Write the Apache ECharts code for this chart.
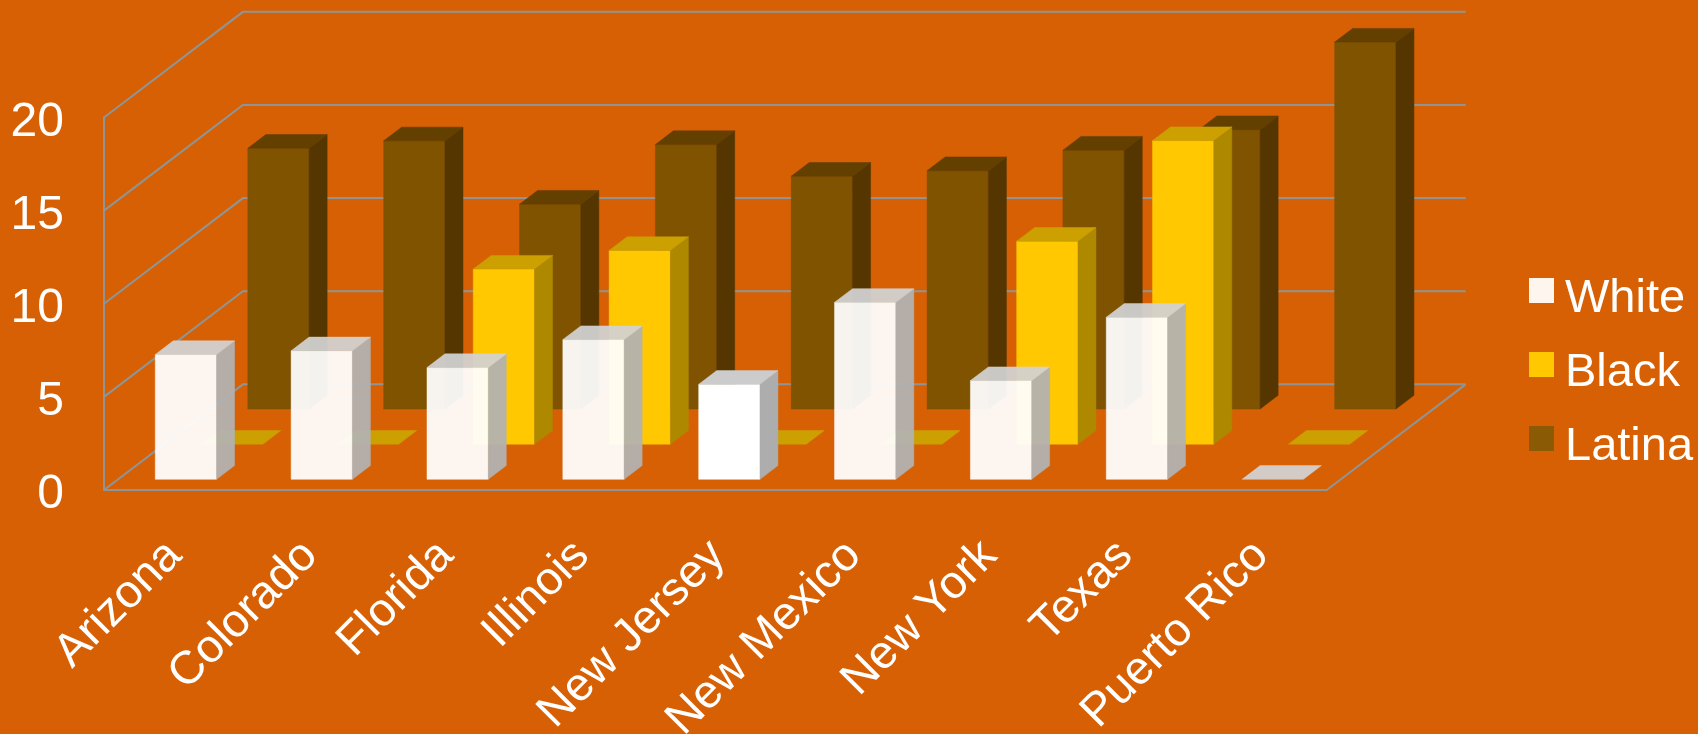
<!DOCTYPE html>
<html>
<head>
<meta charset="utf-8">
<style>html,body{margin:0;padding:0;background:#D66003}#c{width:1698px;height:734px}</style>
<script src="https://cdn.jsdelivr.net/npm/echarts@6/dist/echarts.min.js"></script>
</head>
<body>
<div id="c"></div>
<script>
const categories = ['Arizona','Colorado','Florida','Illinois','New Jersey','New Mexico','New York','Texas','Puerto Rico'];
const whiteValues  = [6.7, 6.9, 6.0, 7.5, 5.1, 9.5, 5.3, 8.7, 0];
const blackValues  = [0, 0, 9.4, 10.4, 0, 0, 10.9, 16.3, 0];
const latinaValues = [14.0, 14.4, 11.0, 14.2, 12.5, 12.8, 13.9, 15.0, 19.7];
const yTicks = [0, 5, 10, 15, 20];
const opaqueWhiteCategory = 'New Jersey';

const FONT = '"Liberation Sans", Arial, sans-serif';
const GRID_LINE = '#8F9596';

// 3D projection, all as fractions of one category band
const DEPTH_X = 139 / 135.9, DEPTH_Y = 105.7 / 135.9;
const BAR_INSET = 51.3 / 135.9, BAR_W = 61.3 / 135.9;
const BAR_DX = 18 / 135.9, BAR_DY = 13.7 / 135.9;
const ROW_DX = 46.3 / 135.9, ROW_DY = 35.15 / 135.9, BASE_DY = 10.7 / 135.9;

function barRenderer(row, facesFor, alphaFor) {
  return function (params, api) {
    const idx = api.value(0), val = api.value(1);
    const faces = facesFor(idx), alpha = alphaFor(idx);
    const band = api.size([1, 0])[0];
    const base = api.coord([idx, 0]);
    const top = api.coord([idx, val]);
    const x0 = base[0] - band / 2 + band * (BAR_INSET + row * ROW_DX);
    const x1 = x0 + band * BAR_W;
    const lift = band * (BASE_DY + row * ROW_DY);
    const yb = base[1] - lift, yt = top[1] - lift;
    const dx = band * BAR_DX, dy = band * BAR_DY;
    const poly = (points, fill) => ({
      type: 'polygon', shape: { points },
      style: { fill, opacity: alpha, stroke: fill, lineWidth: 0.5 }
    });
    const children = [];
    if (val > 0) {
      children.push(poly([[x0, yb], [x1, yb], [x1, yt], [x0, yt]], faces.front));
      children.push(poly([[x1, yb], [x1 + dx, yb - dy], [x1 + dx, yt - dy], [x1, yt]], faces.side));
    }
    children.push(poly([[x0, yt], [x1, yt], [x1 + dx, yt - dy], [x0 + dx, yt - dy]], faces.top));
    return { type: 'group', children };
  };
}

function wallRenderer(params, api) {
  const v = api.value(0);
  const band = api.size([1, 0])[0];
  const left = api.coord([0, v]);
  const x0 = left[0] - band / 2;
  const y = left[1];
  const dx = band * DEPTH_X, dy = band * DEPTH_Y;
  const xEnd = x0 + band * categories.length;
  const style = { stroke: GRID_LINE, lineWidth: 2, fill: 'none' };
  const children = [
    { type: 'polyline', shape: { points: [[x0, y], [x0 + dx, y - dy], [xEnd + dx, y - dy]] }, style }
  ];
  if (v === 0) {
    children.push({ type: 'line', shape: { x1: xEnd, y1: y, x2: xEnd + dx, y2: y - dy }, style });
  }
  return { type: 'group', children };
}

function barSeries(name, values, row, facesFor, alphaFor, legendColor, z) {
  return {
    name, type: 'custom', z, clip: false,
    renderItem: barRenderer(row, facesFor, alphaFor),
    encode: { x: 0, y: 1 },
    itemStyle: { color: legendColor },
    data: values.map((v, i) => [i, v])
  };
}

const whiteFaces = { front: '#FFFFFF', side: '#B2B2B2', top: '#D2D2D2' };
const whiteOpaqueFaces = { front: '#FFFFFF', side: '#ADADAD', top: '#CCCCCC' };
const blackFaces = { front: '#FFC800', side: '#AE8900', top: '#CCA000' };
const latinaFaces = { front: '#7F5300', side: '#553600', top: '#633F00' };
const isOpaqueWhite = i => categories[i] === opaqueWhiteCategory;

const chart = echarts.init(document.getElementById('c'), null, { renderer: 'canvas' });
chart.setOption({
  animation: false,
  backgroundColor: '#D66003',
  textStyle: { fontFamily: FONT },
  grid: { left: 104, top: 117.5, width: 1222.7, height: 372.5, containLabel: false, outerBoundsMode: 'none' },
  legend: {
    data: ['White', 'Black', 'Latina'],
    orient: 'vertical', left: 1529, top: 276, padding: 0,
    icon: 'rect', itemWidth: 25, itemHeight: 25, itemGap: 27,
    formatter: '{a|{name}}',
    textStyle: {
      color: '#fff', fontSize: 47, fontFamily: FONT, padding: [0, 0, 0, 6],
      rich: { a: { color: '#fff', fontSize: 47, fontFamily: FONT, height: 47, lineHeight: 65, verticalAlign: 'bottom' } }
    },
    selectedMode: false
  },
  xAxis: {
    type: 'category', data: categories,
    axisTick: { show: false },
    axisLine: { show: true, lineStyle: { color: GRID_LINE, width: 2 } },
    axisLabel: { color: '#fff', fontSize: 46.5, fontFamily: FONT, rotate: 45, interval: 0, margin: 56, hideOverlap: false, verticalAlign: 'top', lineHeight: 7 }
  },
  yAxis: {
    type: 'value', min: 0, max: 20, interval: 5,
    axisTick: { show: false },
    splitLine: { show: false },
    axisLine: { show: true, lineStyle: { color: GRID_LINE, width: 2 } },
    axisLabel: { color: '#fff', fontSize: 48, fontFamily: FONT, margin: 40, verticalAlign: 'top', lineHeight: 10 }
  },
  series: [
    {
      type: 'custom', name: 'walls', z: 1, clip: false, silent: true,
      renderItem: wallRenderer, encode: { y: 0 },
      data: yTicks.map(v => [v])
    },
    barSeries('White', whiteValues, 0, i => isOpaqueWhite(i) ? whiteOpaqueFaces : whiteFaces, i => isOpaqueWhite(i) ? 1 : 0.937, '#FFF5EF', 5),
    barSeries('Black', blackValues, 1, () => blackFaces, () => 1, '#FFC800', 4),
    barSeries('Latina', latinaValues, 2, () => latinaFaces, () => 1, '#8B5A05', 3)
  ]
});
</script>
</body>
</html>
